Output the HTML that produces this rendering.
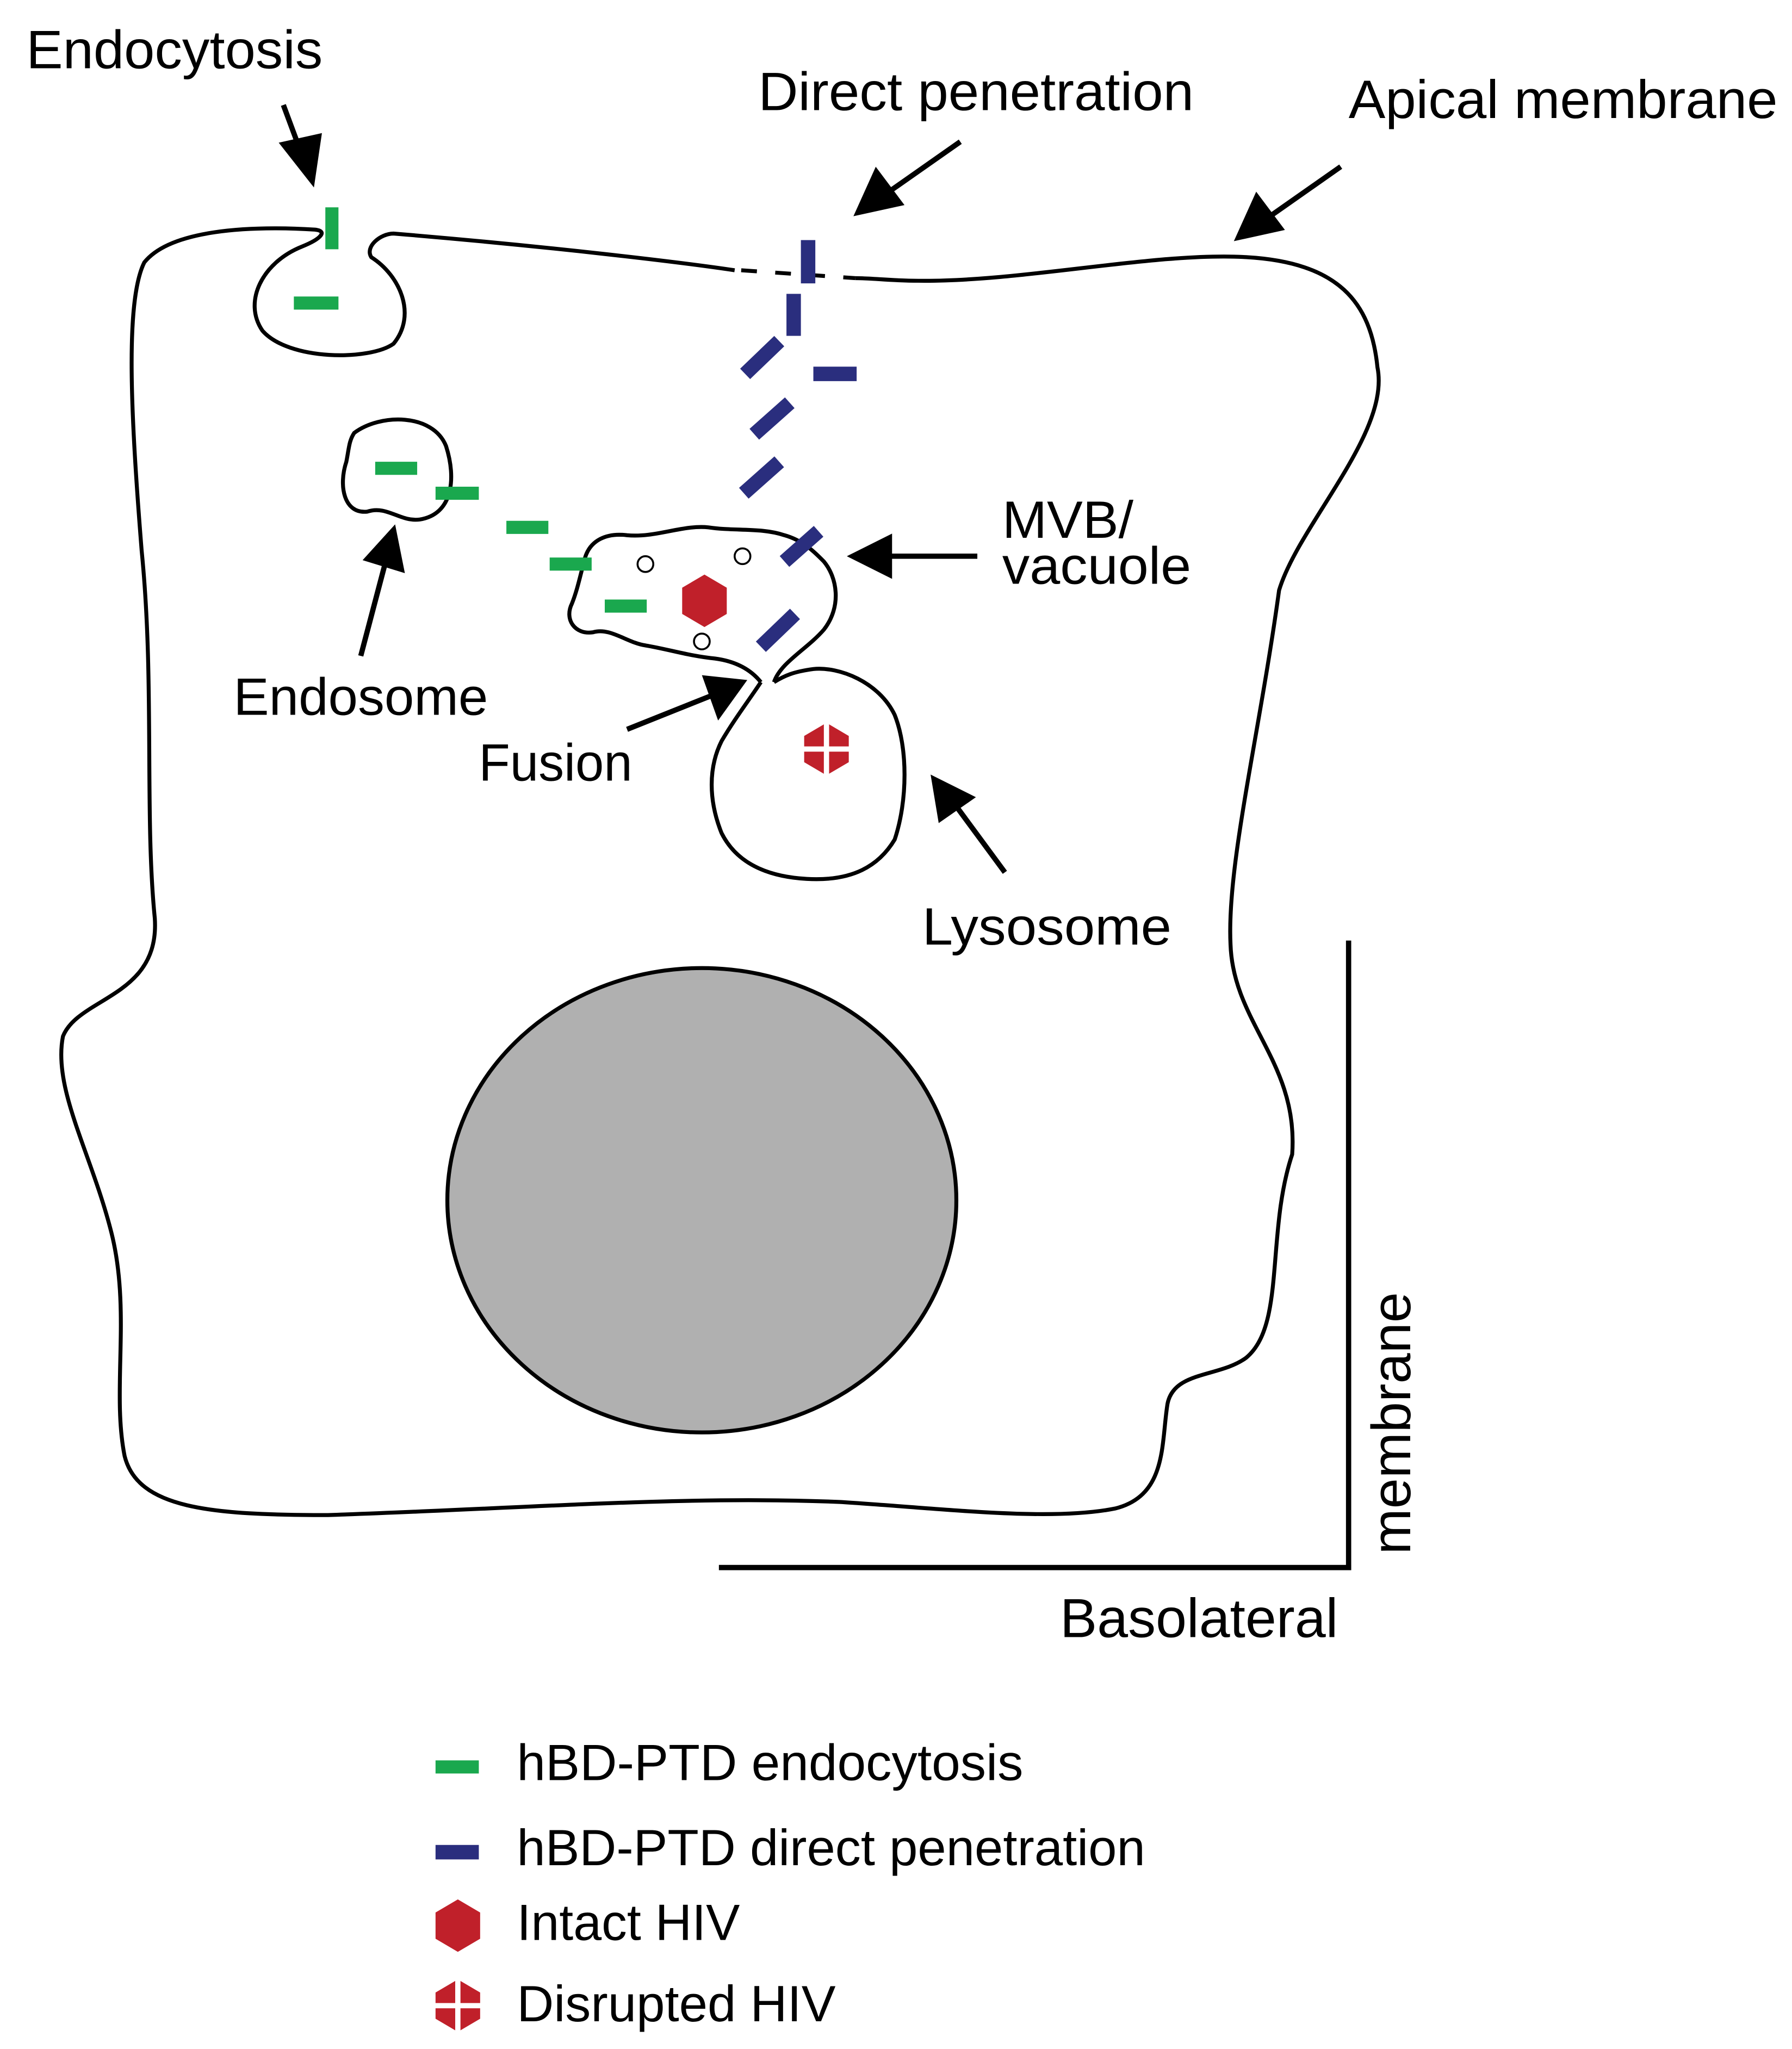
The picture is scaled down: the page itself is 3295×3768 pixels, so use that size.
<!DOCTYPE html>
<html><head><meta charset="utf-8"><style>
html,body{margin:0;padding:0;background:#fff}
svg{display:block}
text{font-family:"Liberation Sans",Arial,sans-serif;fill:#000}
</style></head><body>
<svg width="3295" height="3768" viewBox="0 0 1366 1562" xmlns="http://www.w3.org/2000/svg">
<rect width="1366" height="1562" fill="#fff"/>
<g fill="none" stroke="#000" stroke-width="3">
<path d="M560,206 C520,200 420,188 300,178 C290,178 278,188 283,196 C305,210 318,240 300,262 C282,275 220,275 200,252 C185,230 200,200 230,188 C245,182 250,176 240,175 C190,172 130,175 110,200 C95,230 100,320 108,420 C118,520 110,620 118,700 C122,760 60,760 48,790 C40,830 70,880 85,940 C100,1000 85,1060 95,1110 C105,1150 160,1155 250,1155 C400,1150 520,1140 640,1145 C720,1150 800,1160 850,1150 C890,1140 885,1100 890,1070 C895,1045 930,1050 950,1035 C980,1010 965,940 985,880 C990,810 940,780 938,720 C935,660 960,560 975,450 C990,400 1060,330 1050,280 C1045,230 1020,200 950,196 C880,192 780,215 700,214 C680,214 665,212 652,212"/>
<path d="M565,206 L652,212" stroke-dasharray="12,14"/>
<path d="M270,330 C290,315 330,315 340,340 C348,365 345,392 320,396 C305,398 295,385 280,390 C262,392 258,370 264,352 C266,342 266,336 270,330 Z"/>
<path d="M590,520 C595,505 615,495 628,480 C642,462 638,440 628,428 C620,420 612,412 598,408 C580,402 560,405 540,402 C520,400 500,410 478,408 C462,406 450,412 446,425 C442,440 440,450 436,460 C430,472 438,484 452,482 C465,478 478,490 492,492 C510,495 525,500 545,502 C560,504 572,510 580,520"/>
<path d="M580,520 C570,535 560,548 550,565 C540,585 540,610 550,635 C560,655 580,668 615,670 C650,672 670,660 682,640 C692,610 692,570 682,545 C670,520 640,508 620,510 C605,512 598,515 590,520"/>
</g>
<ellipse cx="535" cy="915" rx="194" ry="177" fill="#b0b0b0" stroke="#000" stroke-width="3"/>
<g fill="#fff" stroke="#000" stroke-width="1.5">
<circle cx="492" cy="430" r="6"/><circle cx="566" cy="424" r="6"/><circle cx="535" cy="489" r="6"/>
</g>
<g stroke="#1aa84e" stroke-width="10" fill="none">
<line x1="253" y1="158" x2="253" y2="190"/>
<line x1="224" y1="231" x2="258" y2="231"/>
<line x1="286" y1="357" x2="318" y2="357"/>
<line x1="332" y1="376" x2="365" y2="376"/>
<line x1="386" y1="402" x2="418" y2="402"/>
<line x1="419" y1="430" x2="451" y2="430"/>
<line x1="461" y1="462" x2="493" y2="462"/>
<line x1="332" y1="1347" x2="365" y2="1347"/>
</g>
<g stroke="#2a2e7e" stroke-width="11" fill="none">
<line x1="616" y1="183" x2="616" y2="216"/>
<line x1="605" y1="224" x2="605" y2="256"/>
<line x1="568" y1="285" x2="594" y2="260"/>
<line x1="620" y1="285" x2="653" y2="285"/>
<line x1="575" y1="331" x2="602" y2="307"/>
<line x1="567" y1="376" x2="594" y2="352"/>
<line x1="598" y1="428" x2="624" y2="405"/>
<line x1="580" y1="493" x2="606" y2="468"/>
<line x1="332" y1="1412" x2="365" y2="1412"/>
</g>
<polygon points="537,438 554,448 554,468 537,478 520,468 520,448" fill="#c0202a"/>
<g transform="translate(630,571)">
<polygon points="0,-20 17,-10 17,10 0,20 -17,10 -17,-10" fill="#c0202a"/>
<line x1="-18" y1="0" x2="18" y2="0" stroke="#fff" stroke-width="4"/>
<line x1="0" y1="-21" x2="0" y2="21" stroke="#fff" stroke-width="4"/>
</g>
<polygon points="349,1448 366,1458 366,1478 349,1488 332,1478 332,1458" fill="#c0202a"/>
<g transform="translate(349,1529)">
<polygon points="0,-20 17,-10 17,10 0,20 -17,10 -17,-10" fill="#c0202a"/>
<line x1="-18" y1="0" x2="18" y2="0" stroke="#fff" stroke-width="4"/>
<line x1="0" y1="-21" x2="0" y2="21" stroke="#fff" stroke-width="4"/>
</g>
<g stroke="#000" stroke-width="4" fill="#000">
<line x1="216" y1="80" x2="229" y2="115"/><polygon points="238,138 216,110 243,104"/>
<line x1="732" y1="108" x2="675" y2="148"/><polygon points="654,162 668,131 686,155"/>
<line x1="1022" y1="127" x2="965" y2="167"/><polygon points="944,181 958,150 976,174"/>
<line x1="745" y1="424" x2="675" y2="424"/><polygon points="650,424 678,410 678,438"/>
<line x1="275" y1="500" x2="294" y2="428"/><polygon points="300,404 306,434 280,426"/>
<line x1="478" y1="556" x2="543" y2="530"/><polygon points="566,520 548,545 538,517"/>
<line x1="766" y1="665" x2="727" y2="612"/><polygon points="712,594 740,608 717,624"/>
</g>
<g stroke="#000" stroke-width="4">
<line x1="1028" y1="717" x2="1028" y2="1197"/>
<line x1="548" y1="1195" x2="1030" y2="1195"/>
</g>
<g font-size="40">
<text x="20" y="52" font-size="41" textLength="226" lengthAdjust="spacingAndGlyphs">Endocytosis</text>
<text x="578" y="84" font-size="41" textLength="332" lengthAdjust="spacingAndGlyphs">Direct penetration</text>
<text x="1028" y="90" font-size="41" textLength="327" lengthAdjust="spacingAndGlyphs">Apical membrane</text>
<text x="764" y="410" textLength="100" lengthAdjust="spacingAndGlyphs">MVB/</text>
<text x="764" y="445" textLength="144" lengthAdjust="spacingAndGlyphs">vacuole</text>
<text x="178" y="545" textLength="194" lengthAdjust="spacingAndGlyphs">Endosome</text>
<text x="365" y="595" textLength="117" lengthAdjust="spacingAndGlyphs">Fusion</text>
<text x="703" y="720" textLength="190" lengthAdjust="spacingAndGlyphs">Lysosome</text>
<text x="808" y="1248" font-size="42" textLength="212" lengthAdjust="spacingAndGlyphs">Basolateral</text>
<text transform="translate(1075,1185) rotate(-90)" font-size="42" textLength="200" lengthAdjust="spacingAndGlyphs">membrane</text>
<text x="394" y="1357" font-size="39" textLength="386" lengthAdjust="spacingAndGlyphs">hBD-PTD endocytosis</text>
<text x="394" y="1422" font-size="39" textLength="479" lengthAdjust="spacingAndGlyphs">hBD-PTD direct penetration</text>
<text x="394" y="1479" font-size="39" textLength="170" lengthAdjust="spacingAndGlyphs">Intact HIV</text>
<text x="394" y="1541" font-size="39" textLength="243" lengthAdjust="spacingAndGlyphs">Disrupted HIV</text>
</g>
</svg>
</body></html>
